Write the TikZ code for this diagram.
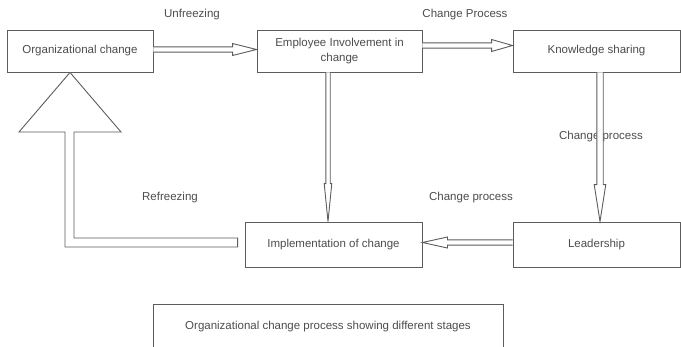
\documentclass[tikz,border=0pt]{standalone}
\usepackage{fontspec}
\setmainfont{Liberation Sans}
\usetikzlibrary{calc}
\definecolor{lc}{gray}{0.36}
\definecolor{tc}{gray}{0.3}
\tikzset{
  box/.style={draw=lc, line width=0.9pt, rectangle, inner sep=0pt, align=center, text=tc,
    font=\fontsize{11.5}{15}\selectfont},
  lbl/.style={text=tc, inner sep=1pt, font=\fontsize{11.5}{13}\selectfont},
  arr/.style={draw=lc, fill=white, line width=0.9pt, line join=miter}
}
% from, to, shaft half-gap, head length, head half-width
\newcommand\dblarr[5]{%
  \draw[arr] let \p1=#1, \p2=#2, \n1={atan2(\y2-\y1,\x2-\x1)}, \n2={veclen(\x2-\x1,\y2-\y1)} in
   [shift={(\x1,\y1)}, rotate=\n1]
   (0,#3) -- (\n2-#4,#3) -- (\n2-#4,#5) -- (\n2,0) -- (\n2-#4,-#5) -- (\n2-#4,-#3) -- (0,-#3);
}
\begin{document}
\begin{tikzpicture}[x=1pt,y=-1pt]
\useasboundingbox (0,0) rectangle (681,346);
\clip (0,0) rectangle (681,346);

\node[box, minimum width=146pt, minimum height=42pt] (org) at (80,51) {Organizational change};
\node[box, minimum width=165pt, minimum height=42pt] (emp) at (339.5,51) {Employee Involvement in\\change};
\node[box, minimum width=167pt, minimum height=42pt] (know) at (596.5,51) {Knowledge sharing};
\node[box, minimum width=167pt, minimum height=45pt] (lead) at (596.5,244.5) {Leadership};
\node[box, minimum width=177pt, minimum height=45pt] (impl) at (333.5,244.5) {Implementation of change};
\node[box, minimum width=350pt, minimum height=46pt] (cap) at (328,327) {Organizational change process showing different stages};

\node[lbl] (l1) at (192,15) {Unfreezing};
\node[lbl] (l2) at (465,15) {Change Process};
\node[lbl] (l3) at (601,137) {Change process};
\node[lbl] (l4) at (471,198) {Change process};
\node[lbl] (l5) at (170,198) {Refreezing};

% arrows
\dblarr{([yshift=1.5pt]org.east)}{([yshift=1.5pt]emp.west)}{2.6}{24}{6}
\dblarr{([yshift=5.5pt]emp.east)}{([yshift=5.5pt]know.west)}{2.6}{21}{6}
\coordinate (e1) at ([xshift=-11.5pt]emp.south);
\dblarr{(e1)}{(e1 |- impl.north)}{2.2}{38}{3.8}
\dblarr{([xshift=3.5pt]know.south)}{([xshift=3.5pt]lead.north)}{3.2}{37}{5.8}
\dblarr{([yshift=2pt]lead.west)}{([yshift=2pt]impl.east)}{2.6}{25}{5.5}

% refreezing big arrow
\draw[arr] ([xshift=-7pt,yshift=6.5pt]impl.west) -- (74,238) -- (74,132) -- (121,132)
  -- ([xshift=-10pt]org.south) -- (19,132) -- (65,132) -- (65,247)
  -- ([xshift=-7pt,yshift=-2.5pt]impl.west) -- cycle;
\end{tikzpicture}
\end{document}
